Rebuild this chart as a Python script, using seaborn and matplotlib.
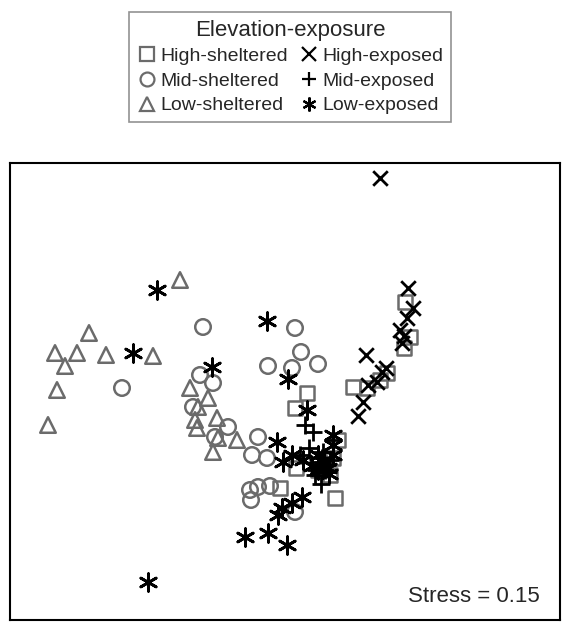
import matplotlib
matplotlib.use("Agg")
import matplotlib.pyplot as plt
import seaborn as sns
import pandas as pd
from matplotlib.lines import Line2D

sns.set_style("white")
plt.rcParams['font.family'] = ['Liberation Sans', 'DejaVu Sans']

# ordination scores (x right, y down)
high_sheltered_x = [405, 410, 404, 353, 367, 380, 387, 307, 295, 296, 333, 335, 280, 330, 318, 338]
high_sheltered_y = [302, 337, 348, 387, 388, 380, 373, 393, 408, 468, 458, 498, 488, 475, 470, 440]

mid_sheltered_x = [203, 122, 200, 213, 193, 228, 215, 295, 301, 268, 292, 318, 258, 252, 267, 250, 258, 270, 251, 295]
mid_sheltered_y = [327, 388, 375, 383, 407, 427, 437, 328, 352, 366, 368, 364, 437, 455, 458, 490, 487, 486, 500, 512]

low_sheltered_x = [48, 55, 77, 65, 89, 106, 153, 57, 180, 190, 208, 198, 195, 197, 217, 218, 237, 213]
low_sheltered_y = [425, 353, 353, 366, 333, 355, 356, 390, 280, 388, 398, 407, 420, 428, 418, 438, 440, 452]

high_exposed_x = [380, 408, 413, 407, 400, 404, 402, 366, 382, 377, 368, 363, 358, 386]
high_exposed_y = [178, 288, 308, 318, 330, 336, 343, 355, 372, 382, 385, 402, 416, 368]

mid_exposed_x = [305, 313, 309, 321, 333, 318, 327, 323, 316, 300, 320, 325, 315, 330, 322]
mid_exposed_y = [425, 432, 448, 484, 440, 462, 465, 452, 470, 455, 465, 470, 475, 460, 458]

low_exposed_x = [157, 133, 267, 212, 288, 307, 277, 292, 283, 303, 333, 333, 302, 292, 282, 278,
                 245, 268, 287, 148, 318, 328, 318, 333, 324, 312, 329]
low_exposed_y = [290, 353, 321, 367, 379, 410, 442, 455, 462, 460, 435, 445, 497, 503, 508, 515,
                 537, 533, 545, 582, 455, 468, 470, 455, 462, 466, 474]

gray = "#6b6b6b"
asterisk = (6, 2, 0)

groups = [
    ("High-sheltered", high_sheltered_x, high_sheltered_y, "s", gray, True),
    ("Mid-sheltered", mid_sheltered_x, mid_sheltered_y, "o", gray, True),
    ("Low-sheltered", low_sheltered_x, low_sheltered_y, "^", gray, True),
    ("High-exposed", high_exposed_x, high_exposed_y, "x", "black", False),
    ("Mid-exposed", mid_exposed_x, mid_exposed_y, "+", "black", False),
    ("Low-exposed", low_exposed_x, low_exposed_y, asterisk, "black", False),
]
sizes = {"s": 100, "o": 125, "^": 125, "x": 110, "+": 150}

fig = plt.figure(figsize=(5.66, 6.23), dpi=100)
ax = fig.add_axes([10 / 566, 3 / 623, 550 / 566, 457 / 623])

handles = []
for name, xs, ys, mk, col, filled in groups:
    df = pd.DataFrame({"x": xs, "y": ys})
    if filled:
        sns.scatterplot(data=df, x="x", y="y", marker=mk, s=sizes[mk], facecolors="none",
                        edgecolor=col, linewidth=1.8, ax=ax)
    else:
        sns.scatterplot(data=df, x="x", y="y", marker=mk, s=sizes.get(mk, 160), color=col,
                        linewidth=2.0, ax=ax)
    handles.append(Line2D([], [], linestyle="none", marker=mk, markersize=10,
                          markerfacecolor="none" if filled else col,
                          markeredgecolor=col, markeredgewidth=1.6, label=name))

ax.set_xlim(10, 560)
ax.set_ylim(620, 163)
ax.set_xticks([])
ax.set_yticks([])
ax.set_xlabel("")
ax.set_ylabel("")
for sp in ax.spines.values():
    sp.set_color("black")
    sp.set_linewidth(1.5)

ax.text(540, 597, "Stress = 0.15", ha="right", va="center", fontsize=16)

leg = fig.legend(handles=handles, ncol=2, title="Elevation-exposure", loc="center",
                 bbox_to_anchor=(290 / 566, 1 - 67 / 623), fontsize=14,
                 title_fontsize=16, frameon=True, fancybox=False,
                 handletextpad=0.15, columnspacing=0.5, labelspacing=0.36,
                 borderpad=0.4, handlelength=1.1)
leg.get_frame().set_edgecolor("#777777")
leg.get_frame().set_linewidth(1.2)

fig.savefig("out.png", dpi=100)
